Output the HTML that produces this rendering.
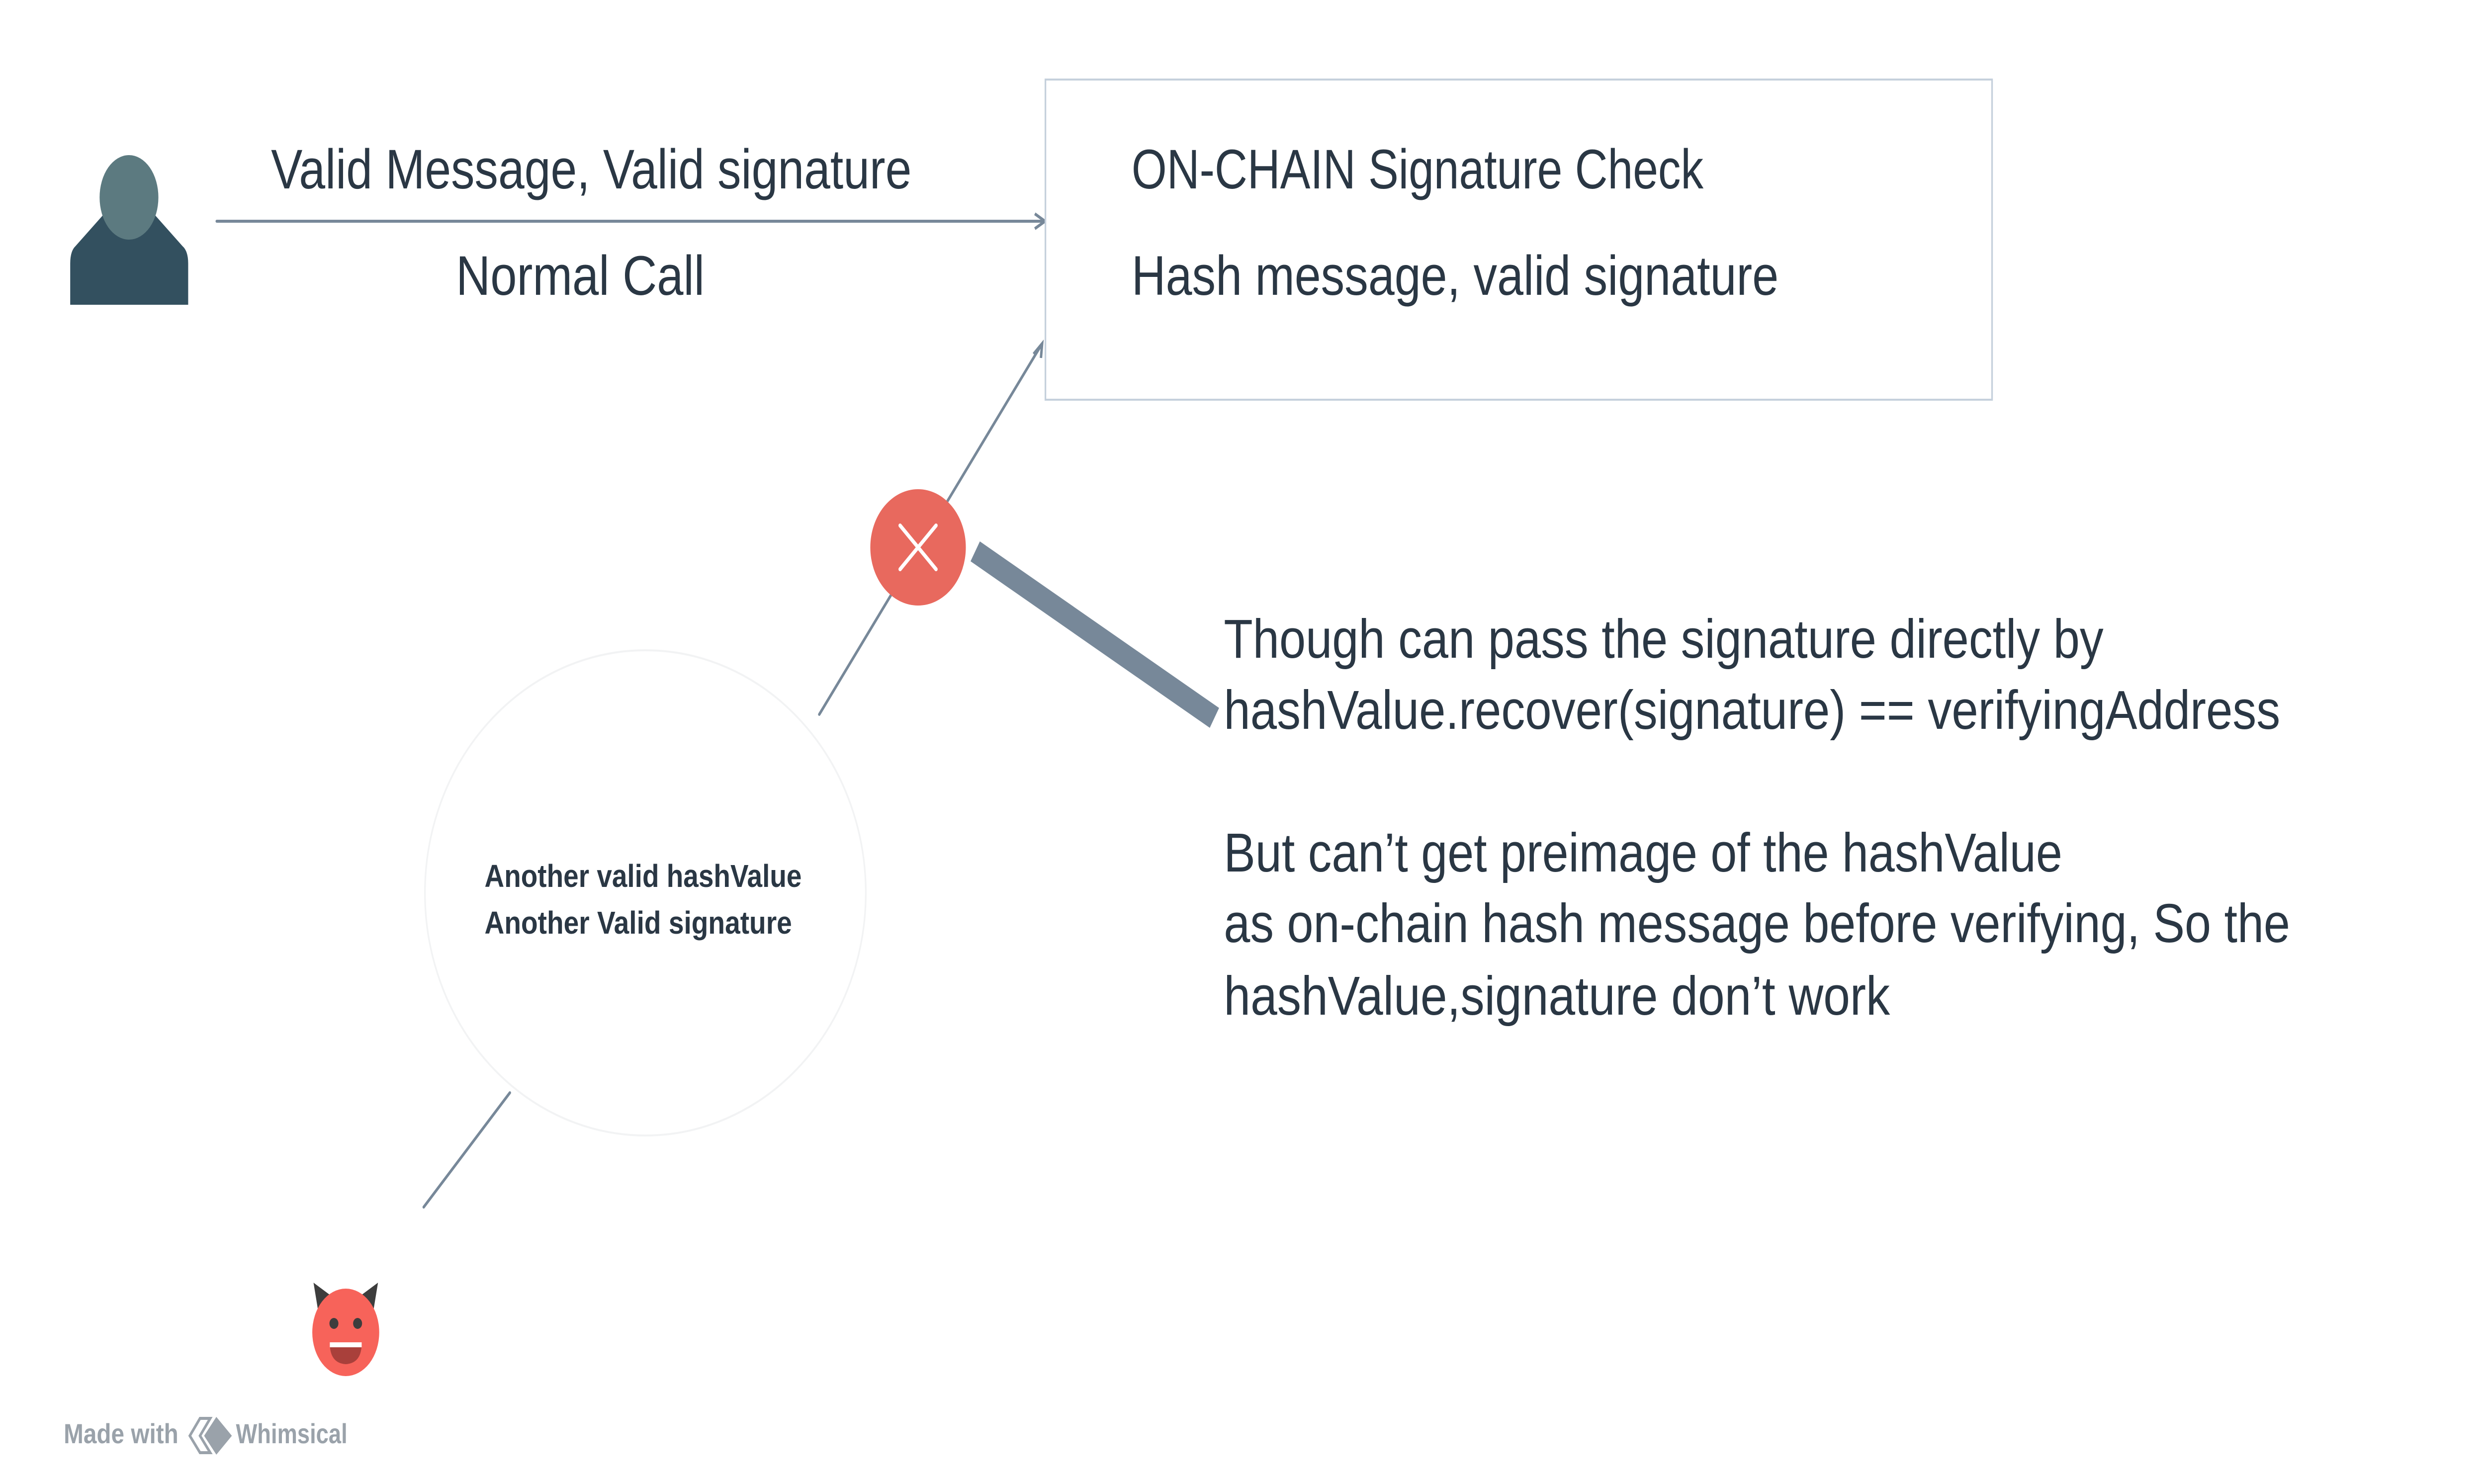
<!DOCTYPE html>
<html><head><meta charset="utf-8"><style>
html,body{margin:0;padding:0;background:#fff;overflow:hidden;width:100vw;height:100vh;}
svg{display:block;width:100vw;height:100vh;}
text{font-family:"Liberation Sans",sans-serif;fill:#2a3744;}
</style></head><body>
<svg viewBox="0 0 6090 2985" preserveAspectRatio="none" xmlns="http://www.w3.org/2000/svg">
<rect width="6090" height="2985" fill="#fff"/>
<!-- user icon -->
<path d="M172 530 Q172 505 185 495 L266 420 L366 420 L447 495 Q461 505 461 530 L461 613 L172 613 Z" fill="#33505f"/>
<rect x="276" y="380" width="80" height="60" fill="#33505f"/>
<ellipse cx="316" cy="397" rx="72" ry="85" fill="#5c7a80"/>
<!-- top arrow -->
<line x1="531" y1="445" x2="2552" y2="445" stroke="#778899" stroke-width="6" stroke-linecap="round"/>
<path d="M2535 430 L2560 445 L2535 460" fill="none" stroke="#778899" stroke-width="6"/>
<text x="664" y="379" font-size="112" textLength="1569" lengthAdjust="spacingAndGlyphs">Valid Message, Valid signature</text>
<text x="1117" y="593" font-size="112" textLength="609" lengthAdjust="spacingAndGlyphs">Normal Call</text>
<!-- box -->
<rect x="2561" y="160" width="2319" height="644" fill="#fff" stroke="#c5d0dc" stroke-width="4"/>
<text x="2772" y="379" font-size="112" textLength="1401" lengthAdjust="spacingAndGlyphs">ON-CHAIN Signature Check</text>
<text x="2772" y="593" font-size="112" textLength="1585" lengthAdjust="spacingAndGlyphs">Hash message, valid signature</text>
<!-- diagonal arrow -->
<line x1="2007" y1="1437" x2="2550" y2="695" stroke="#778899" stroke-width="6" stroke-linecap="round"/>
<path d="M2532 712 L2553 691 L2550 720" fill="none" stroke="#778899" stroke-width="6"/>
<!-- thick bar -->
<line x1="2389" y1="1109" x2="2975" y2="1444" stroke="#778899" stroke-width="46"/>
<!-- red x circle -->
<circle cx="2249" cy="1101" r="117" fill="#e8695e"/>
<path d="M2205 1057 L2293 1145 M2293 1057 L2205 1145" stroke="#fff" stroke-width="8" stroke-linecap="round"/>
<!-- right text -->
<text x="2998" y="1323" font-size="110" textLength="2155" lengthAdjust="spacingAndGlyphs">Though can pass the signature directly by</text>
<text x="2998" y="1466" font-size="110" textLength="2588" lengthAdjust="spacingAndGlyphs">hashValue.recover(signature) == verifyingAddress</text>
<text x="2998" y="1753" font-size="110" textLength="2054" lengthAdjust="spacingAndGlyphs">But can’t get preimage of the hashValue</text>
<text x="2998" y="1895" font-size="110" textLength="2612" lengthAdjust="spacingAndGlyphs">as on-chain hash message before verifying, So the</text>
<text x="2998" y="2041" font-size="110" textLength="1632" lengthAdjust="spacingAndGlyphs">hashValue,signature don’t work</text>
<!-- ellipse -->
<ellipse cx="1581" cy="1796" rx="540" ry="488" fill="#fff" stroke="#f2f3f4" stroke-width="4"/>
<text x="1187" y="1784" font-size="64" font-weight="bold" textLength="777" lengthAdjust="spacingAndGlyphs">Another valid hashValue</text>
<text x="1187" y="1878" font-size="64" font-weight="bold" textLength="753" lengthAdjust="spacingAndGlyphs">Another Valid signature</text>
<!-- lower line -->
<line x1="1249" y1="2198" x2="1038" y2="2428" stroke="#778899" stroke-width="6" stroke-linecap="round"/>
<!-- devil -->
<path d="M768 2580 L830 2618 L786 2670 Z" fill="#3d3d3d"/>
<path d="M926 2580 L864 2618 L908 2670 Z" fill="#3d3d3d"/>
<ellipse cx="847" cy="2680" rx="82" ry="88" fill="#f7635a"/>
<circle cx="818" cy="2662" r="11" fill="#3d3d3d"/>
<circle cx="876" cy="2662" r="11" fill="#3d3d3d"/>
<path d="M808 2702 L886 2702 Q886 2742 847 2744 Q808 2742 808 2702 Z" fill="#a9403b"/>
<rect x="808" y="2700" width="78" height="10" fill="#fff"/>
<!-- footer -->
<text x="156" y="2903" font-size="56" font-weight="bold" style="fill:#9aa2aa" textLength="281" lengthAdjust="spacingAndGlyphs">Made with</text>
<path d="M490 2853 L515 2853 L490 2888 L515 2922 L490 2922 L465 2888 Z" fill="none" stroke="#9aa2aa" stroke-width="6"/>
<path d="M530 2850 L568 2888 L530 2926 L500 2888 Z" fill="#9aa2aa"/>
<text x="578" y="2903" font-size="56" font-weight="bold" style="fill:#9aa2aa" textLength="273" lengthAdjust="spacingAndGlyphs">Whimsical</text>
</svg>
</body></html>
